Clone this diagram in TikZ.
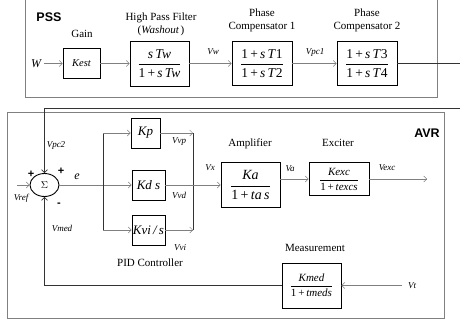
\documentclass[tikz,border=0pt]{standalone}
\usepackage{fontspec}
\setmainfont{Liberation Serif}
\setsansfont{Liberation Sans}
\usetikzlibrary{arrows.meta,shapes.geometric}

% transfer function inside a block
\newcommand{\blkfrac}[2]{$\displaystyle\frac{\mbox{#1}}{\mbox{#2}}$}

\begin{document}
\begin{tikzpicture}[x=1pt, y=-1pt, line cap=rect,
  block/.style={draw, line width=0.9pt, inner sep=1pt, font=\fontsize{13.5}{14}\selectfont},
  sig/.style={draw=gray, line width=0.5pt, -{Straight Barb[length=3pt,width=6pt]}},
  wire/.style={draw=black!80, line width=0.6pt},
  lbl/.style={font=\fontsize{11}{13}\selectfont, align=center},
  var/.style={font=\fontsize{9}{10}\selectfont\itshape},
  sign/.style={font=\sffamily\bfseries\fontsize{11}{12}\selectfont, inner sep=0pt},
  title/.style={font=\sffamily\bfseries\fontsize{12.5}{14}\selectfont},
  frame/.style={draw=gray, dash pattern=on 1pt off 0.8pt, line width=0.7pt},
  sumsym/.style={ellipse, draw, line width=0.9pt, minimum width=29, minimum height=23, inner sep=0pt}]
  \useasboundingbox (0,0) rectangle (460,327);

  % PSS
  \draw[frame] (25,-1) rectangle (437,97);
  \node[title] (pss) at (49,17) {PSS};
  \node[font=\fontsize{12}{13}\selectfont\itshape] (w) at (36,63.5) {W};
  \node[block, font=\fontsize{10.5}{12}\selectfont\itshape, minimum width=37, minimum height=30] (kest) at (81.5,63.5) {Kest};
  \node[lbl] (gain) at (82,34) {Gain};
  \node[block, minimum width=59, minimum height=45] (hpf) at (159.5,63.5)
    {\blkfrac{\itshape s\,Tw}{1\,+\,\itshape s\,Tw}};
  \node[lbl] (hpftxt) at (161,24) {High Pass Filter\\(\textit{Washout\,})};
  \node[block, minimum width=60, minimum height=44] (comp1) at (262,63.5)
    {\blkfrac{1\,+\,\textit{s\,T}1}{1\,+\,\textit{s\,T}2}};
  \node[lbl] (comp1txt) at (262,20.5) {Phase\\Compensator 1};
  \node[block, minimum width=60, minimum height=44] (comp2) at (367,63.5)
    {\blkfrac{1\,+\,\textit{s\,T}3}{1\,+\,\textit{s\,T}4}};
  \node[lbl] (comp2txt) at (367,20.5) {Phase\\Compensator 2};
  \draw[sig] (w) -- (kest);
  \draw[sig] (kest) -- (hpf);
  \draw[sig] (hpf) -- (comp1);
  \node[var] (vw) at (213,52) {Vw};
  \draw[sig] (comp1) -- (comp2);
  \node[var] (vpc1) at (315,52) {Vpc1};

  % AVR
  \draw[frame] (7,112) rectangle (444,318);
  \node[title] (avr) at (427,133) {AVR};
  \node[sumsym] (sum) at (44.5,185) {$\Sigma$};
  \coordinate (pr) at (463,63.5);
  \coordinate (pb) at (463,108);
  \draw[wire, -{Straight Barb[length=3pt,width=6pt]}] (comp2.east) -| (pb) -| (sum.north);
  \coordinate (vref) at (17,185);
  \draw[sig] (vref) -- (sum.west);
  \node[sign] (p1) at (31,174) {+};
  \node[sign] (p2) at (61,171) {+};
  \node[sign] (m1) at (59,205) {-};
  \node[var] (vpc2) at (56,145) {Vpc2};
  \node[var] (vref) at (21,198) {Vref};
  \node[font=\fontsize{12}{13}\selectfont\itshape] (e) at (77,177) {e};
  \node[var] (vmed) at (62,228) {Vmed};

  % PID controller
  \node[block, font=\fontsize{13}{14}\selectfont\itshape, minimum width=29, minimum height=30] (kp) at (145.5,133) {Kp};
  \node[block, font=\fontsize{13}{14}\selectfont\itshape, minimum width=33, minimum height=30] (kd) at (148.5,185) {Kd s};
  \node[block, font=\fontsize{13}{14}\selectfont\itshape, minimum width=33, minimum height=30] (kvi) at (148.5,230) {Kvi\,/\,s};
  \coordinate (busl) at (103,185);
  \coordinate (busr) at (193,185);
  \draw[sig] (sum.east) -- (kd.west);
  \draw[wire] (busl |- kp) -- (busl |- kvi);
  \draw[sig] (busl |- kp) -- (kp.west);
  \draw[sig] (busl |- kvi) -- (kvi.west);
  \draw[sig] (kp.east) -- (kp.east -| busr);
  \draw[sig] (kvi.east) -- (kvi.east -| busr);
  \draw[wire] (busr |- kp) -- (busr |- kvi);
  \node[var] (vvp) at (179,142) {Vvp};
  \node[var] (vvd) at (179,195) {Vvd};
  \node[var] (vvi) at (180,248) {Vvi};
  \node[lbl] (pid) at (150,263) {PID Controller};

  % amplifier and exciter
  \node[block, font=\fontsize{14}{15}\selectfont, minimum width=59, minimum height=45] (amp) at (250.5,185)
    {\blkfrac{\itshape Ka}{1\,+\,\itshape ta\,s}};
  \node[lbl] (amptxt) at (250,144) {Amplifier};
  \draw[sig] (kd.east) -- (amp.west);
  \node[var] (vx) at (210,168) {Vx};
  \node[block, font=\fontsize{11}{12}\selectfont, minimum width=60, minimum height=33] (exc) at (339,179)
    {\blkfrac{\itshape Kexc}{1\,+\,\itshape texcs}};
  \node[lbl] (exctxt) at (338,143) {Exciter};
  \draw[sig] (amp.east |- exc) -- (exc.west);
  \node[var] (va) at (290,169) {Va};
  \coordinate (vexc) at (427,179);
  \draw[sig] (exc.east) -- (vexc);
  \node[var] (vexctxt) at (387,168) {Vexc};

  % measurement and feedback
  \node[block, font=\fontsize{11}{12}\selectfont, minimum width=59, minimum height=45] (meas) at (311.5,285.5)
    {\blkfrac{\itshape Kmed}{1\,+\,\itshape tmeds}};
  \node[lbl] (meastxt) at (315,248) {Measurement};
  \coordinate (vt) at (402,285.5);
  \draw[sig] (vt) -- (meas.east);
  \node[var] (vttxt) at (412,286) {Vt};
  \draw[wire, -{Straight Barb[length=3pt,width=6pt]}] (meas.west) -| (sum.south);
\end{tikzpicture}
\end{document}
